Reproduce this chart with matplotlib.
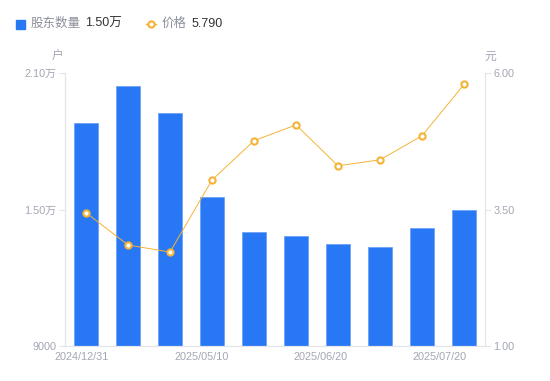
import numpy as np
import matplotlib
matplotlib.use('Agg')
import matplotlib.pyplot as plt
from matplotlib.lines import Line2D
from matplotlib.patches import Rectangle

plt.rcParams['font.family'] = ['Liberation Sans', 'Noto Sans CJK SC', 'DejaVu Sans']

# ---------------- data ----------------
holders = [18800, 20430, 19240, 15550, 14010, 13830, 13480, 13350, 14190, 15000]
price = [3.44, 2.85, 2.72, 4.04, 4.76, 5.05, 4.30, 4.41, 4.85, 5.79]
tick_labels = ['2024/12/31', '2025/05/10', '2025/06/20', '2025/07/20']
left_ticks = [9000, 15000, 21000]
left_labels = ['9000', '1.50万', '2.10万']
right_ticks = [1.0, 3.5, 6.0]
right_labels = ['1.00', '3.50', '6.00']

BAR_COLOR = '#2878f5'
LINE_COLOR = '#f5b335'
AXIS_COLOR = '#e3e5ea'
TEXT_COLOR = '#a3a6b4'

fig = plt.figure(figsize=(5.5, 3.81), dpi=100)
ax = fig.add_axes([65 / 550, 35 / 381, 420 / 550, 273 / 381])
ax2 = ax.twinx()

x = np.arange(len(holders))
ax.bar(x, holders, width=0.58, color=BAR_COLOR, edgecolor='#6fa3f7', linewidth=0.6, zorder=2)
ax.set_xlim(-0.5, len(holders) - 0.5)
ax.set_ylim(9000, 21000)
ax.set_yticks(left_ticks)
ax.set_yticklabels(left_labels)

ax2.plot(x, price, color=LINE_COLOR, linewidth=0.7, marker='o', markersize=4.5,
         markerfacecolor='white', markeredgecolor=LINE_COLOR, markeredgewidth=1.5, zorder=3)
ax2.set_ylim(1.0, 6.0)
ax2.set_yticks(right_ticks)
ax2.set_yticklabels(right_labels)

# x labels are spread evenly, not under each bar
ax.set_xticks(np.linspace(-0.1, 8.43, 4))
ax.set_xticklabels(tick_labels)

for a in (ax, ax2):
    for s in a.spines.values():
        s.set_color(AXIS_COLOR)
        s.set_linewidth(0.8)
    a.spines['top'].set_visible(False)
    a.tick_params(axis='y', colors=AXIS_COLOR, labelcolor=TEXT_COLOR, labelsize=7.8, length=4, width=0.8, pad=2)
ax.tick_params(axis='x', length=0, labelcolor=TEXT_COLOR, labelsize=7.8, pad=4)

fig.text(58 / 550, 1 - 57 / 381, '户', color=TEXT_COLOR, fontsize=8.5, ha='center', va='center')
fig.text(490 / 550, 1 - 57 / 381, '元', color=TEXT_COLOR, fontsize=8.5, ha='center', va='center')

# legend drawn by hand
ly = 1 - 24 / 381
fig.patches.append(Rectangle((16 / 550, 1 - 28.5 / 381), 9 / 550, 9 / 381,
                             transform=fig.transFigure, color=BAR_COLOR))
fig.text(31 / 550, ly, '股东数量', color='#8c8f9c', fontsize=9, va='center')
fig.text(85 / 550, ly, '1.50万', color='#333333', fontsize=9, va='center')
fig.lines.append(Line2D([146 / 550, 156 / 550], [ly, ly], transform=fig.transFigure, color=LINE_COLOR,
                        linewidth=1))
fig.lines.append(Line2D([151 / 550], [ly], transform=fig.transFigure, marker='o', markersize=4.5,
                        markerfacecolor='white', markeredgecolor=LINE_COLOR, markeredgewidth=1.5))
fig.text(162 / 550, ly, '价格', color='#8c8f9c', fontsize=9, va='center')
fig.text(192 / 550, ly, '5.790', color='#333333', fontsize=9, va='center')

fig.savefig('out.png', dpi=100)
